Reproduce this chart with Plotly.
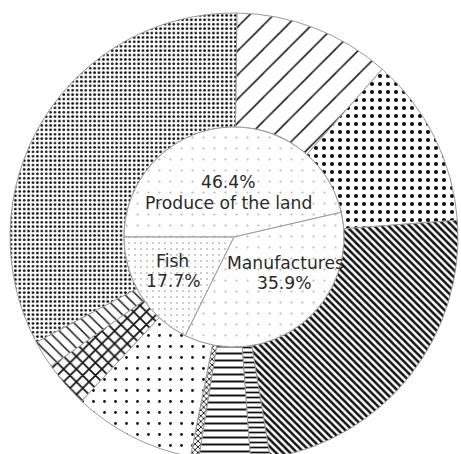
import plotly.graph_objects as go

# Inner pie: main groups
inner_labels = ["Produce of the land", "Fish", "Manufactures"]
inner_values = [46.4, 17.7, 35.9]

# Outer ring: sub-groups, counterclockwise from the right
outer_labels = ["Group A", "Group B", "Group C", "Group D", "Group E",
                "Group F", "Group G", "Group H", "Group I", "Group J"]
outer_values = [12.3, 11.3, 33.0, 2.0, 3.3, 8.8, 0.6, 3.7, 1.4, 23.6]

W, H = 461, 462
CX, CY = 234, 237          # chart centre in pixels from top-left
R_OUT, R_IN = 224, 110
OUTER_START = 4.3          # math angle (deg) where the first outer slice begins
INNER_START = 180 - inner_values[0] * 3.6


def dom(r):
    return dict(x=[(CX - r) / W, (CX + r) / W],
                y=[(H - CY - r) / H, (H - CY + r) / H])


def ccw_rotation(start_deg, first_value):
    # plotly puts the first counterclockwise slice clockwise of `rotation`
    return 90 - (start_deg + first_value * 3.6)


outer_patterns = [
    dict(shape=".", size=8, solidity=0.22),
    dict(shape="/", size=17, solidity=0.09),
    dict(shape=".", size=4.4, solidity=0.3),
    dict(shape="\\", size=8, solidity=0.18),
    dict(shape="x", size=9, solidity=0.35),
    dict(shape=".", size=11, solidity=0.05),
    dict(shape="x", size=4, solidity=0.4),
    dict(shape="-", size=7, solidity=0.28),
    dict(shape="-", size=5, solidity=0.35),
    dict(shape="\\", size=5, solidity=0.5),
]
inner_patterns = [
    dict(shape=".", size=11, solidity=0.03),
    dict(shape=".", size=6, solidity=0.06),
    dict(shape=".", size=11, solidity=0.03),
]


def pattern_lists(pats, fg):
    return dict(
        shape=[p["shape"] for p in pats],
        size=[p["size"] for p in pats],
        solidity=[p["solidity"] for p in pats],
        fgcolor=fg,
        bgcolor="white",
        fillmode="replace",
    )


fig = go.Figure()

fig.add_trace(go.Pie(
    labels=outer_labels, values=outer_values,
    hole=R_IN / R_OUT, sort=False, direction="counterclockwise",
    rotation=ccw_rotation(OUTER_START, outer_values[0]),
    textinfo="none", domain=dom(R_OUT),
    marker=dict(colors=["white"] * len(outer_values),
                line=dict(color="#9a9a9a", width=1),
                pattern=pattern_lists(outer_patterns, "#111111")),
    showlegend=False,
))

fig.add_trace(go.Pie(
    labels=inner_labels, values=inner_values,
    sort=False, direction="counterclockwise",
    rotation=ccw_rotation(INNER_START, inner_values[0]),
    textinfo="none", domain=dom(R_IN),
    marker=dict(colors=["white"] * 3,
                line=dict(color="#9a9a9a", width=1),
                pattern=pattern_lists(inner_patterns,
                                      ["#b8b8b8", "#8c8c8c", "#b8b8b8"])),
    showlegend=False,
))

# Group labels inside the inner pie, one annotation per line
label_lines = {
    "Produce of the land": [("{v:.1f}%", 228, 182), ("{n}", 228, 202.5)],
    "Fish": [("{n}", 172, 260.5), ("{v:.1f}%", 173, 281)],
    "Manufactures": [("{n}", 285, 262.5), ("{v:.1f}%", 284, 283)],
}
for name, val in zip(inner_labels, inner_values):
    for tmpl, px, py in label_lines[name]:
        fig.add_annotation(
            x=px / W, y=1 - py / H, xref="paper", yref="paper",
            text=tmpl.format(v=val, n=name), showarrow=False,
            font=dict(family="DejaVu Sans, sans-serif", size=17.2,
                      color="#2a2a2a"),
            align="center", xanchor="center", yanchor="middle",
        )

fig.update_layout(
    width=W, height=H,
    margin=dict(l=0, r=0, t=0, b=0),
    paper_bgcolor="white", plot_bgcolor="white",
)

fig.write_html(
    "out.html",
    post_script="document.body.style.overflow='hidden';"
                "document.documentElement.style.overflow='hidden';",
)
